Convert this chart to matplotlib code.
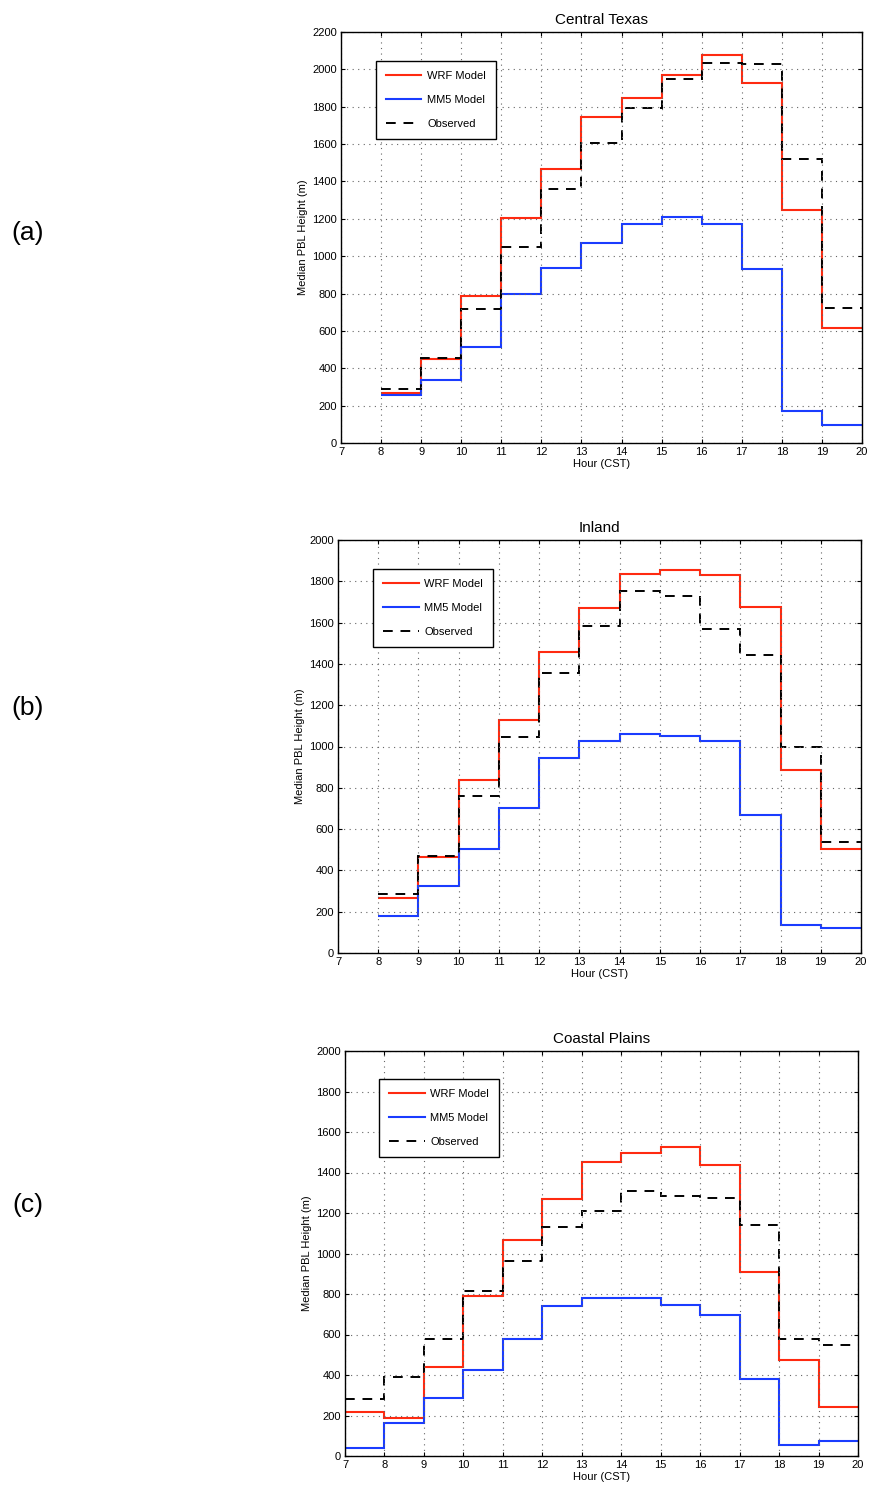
import numpy as np
import matplotlib
matplotlib.use('Agg')
import matplotlib.pyplot as plt

plt.rcParams['font.family'] = ['Liberation Sans', 'DejaVu Sans']

# hour bins (start of each hour)
hours_a = [8, 9, 10, 11, 12, 13, 14, 15, 16, 17, 18, 19]
wrf_a = [265, 448, 785, 1205, 1465, 1745, 1845, 1970, 2075, 1925, 1245, 615]
mm5_a = [255, 335, 515, 795, 935, 1070, 1170, 1210, 1170, 930, 170, 95]
obs_a = [290, 455, 715, 1050, 1360, 1605, 1795, 1950, 2035, 2030, 1520, 720]

hours_b = [8, 9, 10, 11, 12, 13, 14, 15, 16, 17, 18, 19]
wrf_b = [265, 465, 838, 1130, 1460, 1670, 1835, 1855, 1832, 1675, 888, 502]
mm5_b = [180, 323, 505, 700, 943, 1025, 1060, 1050, 1027, 668, 135, 120]
obs_b = [285, 470, 760, 1048, 1355, 1585, 1752, 1730, 1570, 1445, 1000, 537]

hours_c = [7, 8, 9, 10, 11, 12, 13, 14, 15, 16, 17, 18, 19]
wrf_c = [218, 190, 440, 792, 1068, 1267, 1450, 1495, 1525, 1437, 910, 472, 240]
mm5_c = [38, 165, 285, 425, 578, 743, 780, 778, 745, 695, 380, 55, 72]
obs_c = [280, 390, 580, 815, 962, 1130, 1210, 1307, 1285, 1272, 1140, 580, 547]

titles = ['Central Texas', 'Inland', 'Coastal Plains']
tags = ['(a)', '(b)', '(c)']
ymaxes = [2200, 2000, 2000]

W, H = 870, 1489
# axes boxes in pixels: left, top, right, bottom
boxes = [(341, 32, 862, 443), (338, 540, 861, 953), (345, 1051, 858, 1456)]
tag_y = [233, 708, 1205]

fig = plt.figure(figsize=(W / 100, H / 100), dpi=100)

panels = [(hours_a, wrf_a, mm5_a, obs_a),
          (hours_b, wrf_b, mm5_b, obs_b),
          (hours_c, wrf_c, mm5_c, obs_c)]

for i, (hrs, wrf, mm5, obs) in enumerate(panels):
    l, t, r, b = boxes[i]
    ax = fig.add_axes([l / W, 1 - b / H, (r - l) / W, (b - t) / H])
    edges = list(hrs) + [hrs[-1] + 1]
    ax.stairs(wrf, edges, baseline=None, color='#ff2a10', lw=1.5, label='WRF Model')
    ax.stairs(mm5, edges, baseline=None, color='#1a3cff', lw=1.5, label='MM5 Model')
    ax.stairs(obs, edges, baseline=None, color='black', lw=1.4, ls=(0, (5, 4)), label='Observed')

    ax.set_xlim(7, 20)
    ax.set_ylim(0, ymaxes[i])
    ax.set_xticks(range(7, 21))
    ax.set_yticks(range(0, ymaxes[i] + 1, 200))
    ax.grid(True, ls=(0, (1, 4)), color='#666666', lw=0.8)
    ax.tick_params(direction='in', top=True, right=True, labelsize=8, length=3, pad=3)
    for s in ax.spines.values():
        s.set_linewidth(1.0)
    ax.set_title(titles[i], fontsize=11, pad=6)
    ax.set_xlabel('Hour (CST)', fontsize=8, labelpad=1)
    ax.set_ylabel('Median PBL Height (m)', fontsize=8, labelpad=3)

    leg = ax.legend(loc='upper left', bbox_to_anchor=(0.067, 0.93), fontsize=8,
                    fancybox=False, edgecolor='black', framealpha=1,
                    handlelength=3.2, labelspacing=1.25, borderpad=0.9,
                    handletextpad=0.5, borderaxespad=0)
    leg.get_frame().set_linewidth(1.0)

    fig.text(28 / W, 1 - tag_y[i] / H, tags[i], fontsize=19, ha='center', va='center')

fig.savefig('out.png', dpi=100)
